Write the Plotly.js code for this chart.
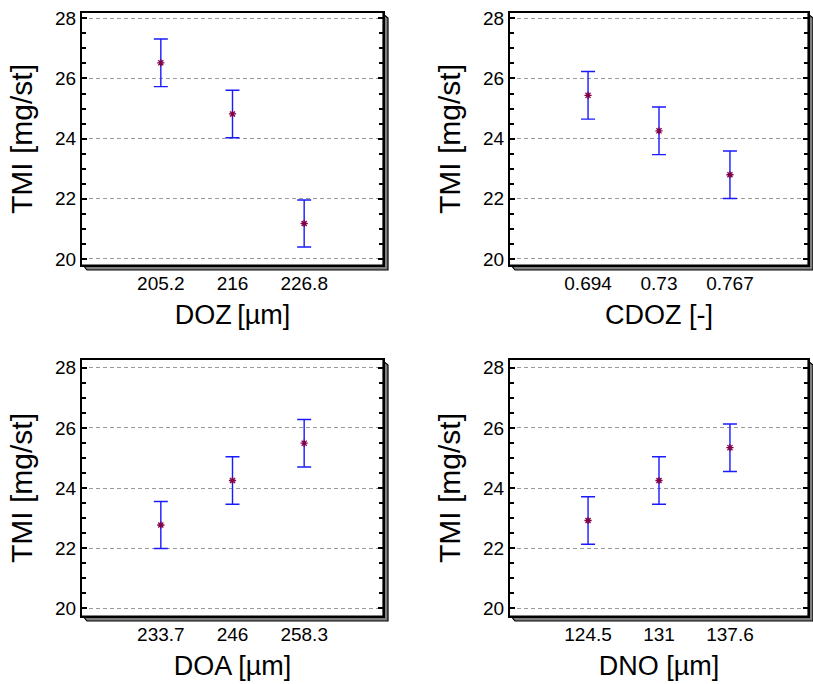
<!DOCTYPE html>
<html>
<head>
<meta charset="utf-8">
<script src="https://cdn.plot.ly/plotly-3.0.1.min.js"></script>
<style>html,body{margin:0;padding:0;background:#fff;}#chart{width:813px;height:684px;}</style>
</head>
<body>
<div id="chart"></div>
<script>
// ---- data ----
const dozLabels = ["205.2", "216", "226.8"];
const dozMeans  = [26.52, 24.82, 21.18];
const dozErr    = [0.79, 0.79, 0.78];

const cdozLabels = ["0.694", "0.73", "0.767"];
const cdozMeans  = [25.44, 24.26, 22.80];
const cdozErr    = [0.79, 0.79, 0.79];

const doaLabels = ["233.7", "246", "258.3"];
const doaMeans  = [22.77, 24.25, 25.49];
const doaErr    = [0.78, 0.79, 0.79];

const dnoLabels = ["124.5", "131", "137.6"];
const dnoMeans  = [22.92, 24.25, 25.34];
const dnoErr    = [0.79, 0.79, 0.79];

const yTitle = "TMI [mg/st]";
const xTitles = ["DOZ\u2009[\u00b5m]", "CDOZ [-]", "DOA [\u00b5m]", "DNO [\u00b5m]"];

// ---- layout geometry ----
const W = 813, H = 684;
const FONT = "Liberation Sans, Arial, sans-serif";
const panels = [
  {x0: 82,  x1: 383, y0: 13,  y1: 265, yr: [19.80, 28.176]},
  {x0: 510, x1: 808, y0: 13,  y1: 265, yr: [19.80, 28.176]},
  {x0: 82,  x1: 383, y0: 360, y1: 616, yr: [19.744, 28.256]},
  {x0: 510, x1: 808, y0: 360, y1: 616, yr: [19.744, 28.256]}
];
const series = [
  [dozLabels, dozMeans, dozErr],
  [cdozLabels, cdozMeans, cdozErr],
  [doaLabels, doaMeans, doaErr],
  [dnoLabels, dnoMeans, dnoErr]
];

const traces = [];
const layout = {
  width: W, height: H,
  margin: {l: 0, r: 0, t: 0, b: 0},
  paper_bgcolor: "#ffffff",
  plot_bgcolor: "#ffffff",
  showlegend: false,
  font: {family: FONT, color: "#000"},
  shapes: []
};

const px = v => v / W;
const py = v => 1 - v / H;

panels.forEach((p, i) => {
  const n = i === 0 ? "" : String(i + 1);
  const [labels, means, errs] = series[i];
  traces.push({
    type: "scatter", mode: "markers",
    x: labels, y: means,
    xaxis: "x" + n, yaxis: "y" + n,
    marker: {symbol: "asterisk-open", size: 6, color: "#80004a", line: {color: "#80004a", width: 1.3}},
    error_y: {type: "data", array: errs, visible: true, color: "#1a1aff", thickness: 1.4, width: 7},
    hoverinfo: "skip"
  });
  layout["xaxis" + n] = {
    domain: [px(p.x0), px(p.x1)],
    anchor: "y" + n,
    type: "category",
    range: [-1.1, 3.1],
    showgrid: false, zeroline: false,
    showline: true, linecolor: "#000", linewidth: 2, mirror: true,
    ticks: "",
    tickfont: {size: 19, family: FONT, color: "#000"},
    title: {text: xTitles[i], font: {size: 27, family: FONT, color: "#000"}, standoff: 12},
    automargin: false, fixedrange: true
  };
  layout["yaxis" + n] = {
    domain: [py(p.y1), py(p.y0)],
    anchor: "x" + n,
    range: p.yr,
    tickvals: [20, 22, 24, 26, 28],
    showgrid: true, gridcolor: "#9a9a9a", gridwidth: 1, griddash: "4px,3px",
    zeroline: false,
    showline: true, linecolor: "#000", linewidth: 2, mirror: "allticks",
    ticks: "inside", ticklen: 5, tickwidth: 2, tickcolor: "#000",
    minor: {dtick: 0.5, ticks: "inside", ticklen: 4, tickwidth: 2, tickcolor: "#000", showgrid: false},
    tickfont: {size: 19, family: FONT, color: "#000"},
    title: {text: yTitle, font: {size: 30, family: FONT, color: "#000"}, standoff: 14},
    automargin: false, fixedrange: true
  };
  // 3D shadow on right and bottom edges
  const d = 5;
  layout.shapes.push({
    type: "path", xref: "paper", yref: "paper", layer: "below",
    path: `M ${px(p.x1)} ${py(p.y0 + 1)} L ${px(p.x1 + d)} ${py(p.y0 + d)} L ${px(p.x1 + d)} ${py(p.y1 + d)} ` +
          `L ${px(p.x0 + d)} ${py(p.y1 + d)} L ${px(p.x0 + 1)} ${py(p.y1)} L ${px(p.x1)} ${py(p.y1)} Z`,
    fillcolor: "#808080",
    line: {color: "#000", width: 1.2}
  });
});

Plotly.newPlot("chart", traces, layout, {staticPlot: true, displayModeBar: false});
</script>
</body>
</html>
